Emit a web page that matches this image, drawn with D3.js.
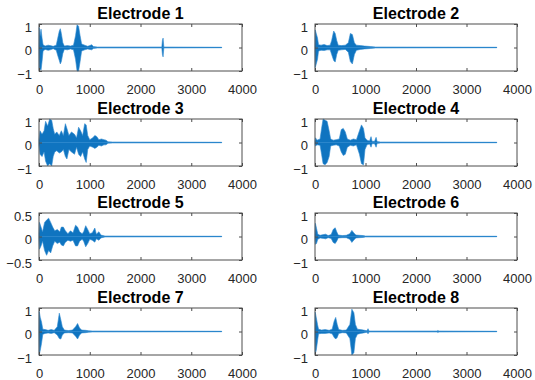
<!DOCTYPE html>
<html>
<head>
<meta charset="utf-8">
<script src="https://cdn.jsdelivr.net/npm/d3@7"></script>
<style>
  html, body { margin: 0; padding: 0; background: #ffffff; }
  svg { display: block; }
</style>
</head>
<body>
<svg id="chart" width="535" height="380"></svg>
<script>
// ---- data: [sample, upper envelope, lower envelope] ----
const titles = ["Electrode 1", "Electrode 2", "Electrode 3", "Electrode 4",
                "Electrode 5", "Electrode 6", "Electrode 7", "Electrode 8"];
const xTicks = [0, 1000, 2000, 3000, 4000];
const yTicksFull = [-1, 0, 1];
const yTicksHalf = [-0.5, 0, 0.5];
const signalEnd = 3600;

const e1 = [[0,0,0],[5,0.85,-0.95],[20,0.5,-0.9],[40,0.78,-0.97],[60,0.4,-0.6],[80,0.12,-0.15],[120,0.06,-0.08],[180,0.1,-0.12],[220,0.08,-0.1],[280,0.05,-0.05],[340,0.1,-0.12],[370,0.4,-0.35],[400,0.7,-0.55],[420,0.8,-0.7],[440,0.6,-0.6],[470,0.2,-0.25],[500,0.06,-0.08],[560,0.08,-0.1],[620,0.06,-0.06],[680,0.1,-0.1],[720,0.5,-0.5],[750,0.97,-1.0],[780,0.9,-1.0],[810,0.5,-0.6],[840,0.15,-0.15],[900,0.1,-0.1],[960,0.05,-0.06],[1000,0.08,-0.08],[1040,0.12,-0.1],[1070,0.04,-0.04],[1150,0.02,-0.02],[2420,0.02,-0.02],[2432,0.3,-0.3],[2445,0.4,-0.4],[2460,0.02,-0.02],[3600,0.01,-0.01]];
const e2 = [[0,0,0],[5,0.75,-0.85],[25,0.6,-0.7],[50,0.4,-0.5],[70,0.12,-0.15],[120,0.1,-0.12],[180,0.13,-0.13],[240,0.08,-0.1],[300,0.1,-0.1],[330,0.3,-0.3],[370,0.7,-0.55],[400,0.6,-0.62],[430,0.3,-0.3],[460,0.1,-0.12],[520,0.08,-0.1],[600,0.1,-0.08],[660,0.2,-0.2],[700,0.6,-0.6],[740,0.55,-0.7],[780,0.2,-0.3],[820,0.1,-0.12],[900,0.08,-0.08],[980,0.06,-0.06],[1050,0.05,-0.05],[1100,0.04,-0.04],[1200,0.02,-0.02],[3600,0.01,-0.01]];
const e3 = [[0,0.1,-0.1],[20,0.5,-0.5],[60,0.35,-0.6],[100,0.5,-0.4],[130,0.9,-0.8],[170,0.7,-1.0],[210,1.0,-0.9],[250,0.95,-1.0],[280,0.6,-0.6],[310,0.35,-0.4],[350,0.45,-0.35],[400,0.3,-0.45],[440,0.5,-0.4],[480,0.3,-0.3],[520,0.8,-0.6],[550,0.6,-0.7],[590,0.3,-0.3],[640,0.45,-0.4],[700,0.35,-0.5],[740,0.2,-0.2],[780,0.65,-0.5],[820,0.5,-0.6],[860,0.3,-0.4],[900,0.8,-0.7],[930,0.75,-0.85],[960,0.3,-0.3],[1000,0.12,-0.15],[1060,0.2,-0.2],[1100,0.3,-0.25],[1140,0.25,-0.2],[1180,0.12,-0.12],[1230,0.15,-0.15],[1280,0.12,-0.1],[1320,0.1,-0.1],[1360,0.03,-0.03],[1450,0.02,-0.02],[3600,0.01,-0.01]];
const e4 = [[0,0.05,-0.05],[10,0.2,-0.15],[40,0.1,-0.1],[100,0.15,-0.12],[130,0.6,-0.5],[160,1.0,-0.9],[200,0.95,-0.95],[240,0.9,-0.85],[280,0.5,-0.6],[310,0.15,-0.15],[360,0.1,-0.12],[420,0.12,-0.1],[480,0.15,-0.15],[520,0.55,-0.4],[560,0.6,-0.55],[600,0.45,-0.5],[640,0.15,-0.2],[700,0.1,-0.12],[760,0.15,-0.15],[820,0.12,-0.1],[880,0.5,-0.5],[920,0.75,-0.9],[960,0.6,-0.95],[990,0.2,-0.3],[1030,0.1,-0.1],[1080,0.06,-0.06],[1110,0.25,-0.2],[1130,0.05,-0.05],[1180,0.05,-0.05],[1210,0.22,-0.2],[1230,0.04,-0.04],[1300,0.02,-0.02],[3600,0.01,-0.01]];
const e5 = [[0,0.05,-0.05],[10,0.3,-0.27],[40,0.2,-0.2],[70,0.1,-0.1],[110,0.3,-0.3],[150,0.35,-0.4],[190,0.39,-0.3],[230,0.3,-0.35],[270,0.2,-0.2],[310,0.12,-0.1],[360,0.15,-0.15],[410,0.1,-0.12],[440,0.2,-0.18],[480,0.2,-0.2],[520,0.12,-0.12],[570,0.06,-0.08],[620,0.12,-0.1],[670,0.08,-0.08],[720,0.24,-0.2],[760,0.2,-0.2],[800,0.1,-0.1],[850,0.06,-0.06],[880,0.1,-0.1],[920,0.23,-0.22],[960,0.15,-0.15],[1000,0.06,-0.06],[1050,0.08,-0.08],[1100,0.18,-0.12],[1130,0.05,-0.05],[1180,0.1,-0.08],[1220,0.03,-0.03],[1300,0.01,-0.01],[3600,0.005,-0.005]];
const e6 = [[0,0.05,-0.05],[8,0.56,-0.33],[30,0.35,-0.3],[55,0.1,-0.12],[100,0.05,-0.06],[170,0.08,-0.08],[210,0.1,-0.1],[260,0.04,-0.05],[320,0.08,-0.08],[360,0.3,-0.25],[400,0.37,-0.3],[430,0.2,-0.2],[460,0.06,-0.06],[540,0.04,-0.05],[620,0.05,-0.05],[690,0.12,-0.12],[730,0.26,-0.25],[770,0.15,-0.15],[810,0.06,-0.06],[880,0.05,-0.05],[950,0.04,-0.04],[1000,0.02,-0.02],[3600,0.01,-0.01]];
const e7 = [[0,0.05,-0.05],[5,0.85,-0.98],[25,0.6,-0.8],[50,0.4,-0.5],[75,0.1,-0.12],[120,0.08,-0.08],[180,0.05,-0.06],[240,0.08,-0.08],[300,0.05,-0.05],[360,0.2,-0.15],[400,0.78,-0.3],[430,0.5,-0.32],[460,0.2,-0.15],[500,0.06,-0.06],[580,0.04,-0.05],[660,0.06,-0.06],[720,0.2,-0.2],[760,0.34,-0.32],[800,0.15,-0.15],[840,0.06,-0.06],[920,0.05,-0.05],[980,0.03,-0.03],[1050,0.02,-0.02],[3600,0.01,-0.01]];
const e8 = [[0,0.05,-0.05],[5,0.82,-0.95],[25,0.6,-0.8],[50,0.3,-0.4],[70,0.1,-0.1],[130,0.06,-0.08],[200,0.08,-0.08],[280,0.05,-0.06],[340,0.1,-0.1],[380,0.45,-0.25],[410,0.6,-0.32],[440,0.3,-0.25],[470,0.08,-0.08],[540,0.05,-0.05],[620,0.06,-0.06],[690,0.3,-0.3],[730,0.95,-1.0],[770,0.8,-0.9],[800,0.3,-0.3],[840,0.1,-0.12],[900,0.08,-0.08],[960,0.06,-0.06],[1030,0.03,-0.03],[1050,0.12,-0.1],[1070,0.02,-0.02],[2420,0.02,-0.02],[2435,0.05,-0.05],[2450,0.02,-0.02],[3600,0.01,-0.01]];

const signals = [e1, e2, e3, e4, e5, e6, e7, e8];
const yLimits = [1, 1, 1, 1, 0.5, 1, 1, 1];

// ---- layout ----
const svg = d3.select("#chart");
const colX = [39, 315];
const colW = [203, 202];
const rowY = [24, 119, 213, 308];
const panelH = 47;
const lineColor = "#0f74c0";
const axisColor = "#4d4d4d";
const fontFamily = "'Liberation Sans', Arial, Helvetica, sans-serif";

signals.forEach((sig, i) => {
  const col = i % 2, row = Math.floor(i / 2);
  const w = colW[col], h = panelH;
  const g = svg.append("g").attr("transform", `translate(${colX[col]},${rowY[row]})`);
  const lim = yLimits[i];
  const x = d3.scaleLinear().domain([0, 4000]).range([0, w]);
  const y = d3.scaleLinear().domain([-lim, lim]).range([h, 0]);
  const yT = lim === 1 ? yTicksFull : yTicksHalf;

  // signal envelope
  const area = d3.area()
    .x(d => x(d[0]))
    .y0(d => y(d[2]))
    .y1(d => y(d[1]));
  g.append("path").datum(sig)
    .attr("d", area)
    .attr("fill", lineColor)
    .attr("stroke", "#2f8ad0")
    .attr("stroke-width", 0.6);
  g.append("line")
    .attr("x1", x(0)).attr("x2", x(signalEnd))
    .attr("y1", y(0)).attr("y2", y(0))
    .attr("stroke", "#2a86cc").attr("stroke-width", 1);

  // axes (inward ticks on all sides)
  const styleAxis = sel => {
    sel.select(".domain").remove();
    sel.selectAll(".tick line").attr("stroke", axisColor);
    sel.selectAll("text").attr("fill", "#262626")
      .style("font-family", fontFamily).style("font-size", "13px");
  };
  g.append("g").attr("transform", `translate(0,${h})`)
    .call(d3.axisBottom(x).tickValues(xTicks).tickSize(-3).tickPadding(8).tickFormat(d3.format("d")))
    .call(styleAxis)
    .call(s => s.selectAll("text").attr("y", 14).attr("dy", "0.71em"));
  g.append("g")
    .call(d3.axisTop(x).tickValues(xTicks).tickSize(-3).tickFormat(""))
    .call(styleAxis);
  g.append("g")
    .call(d3.axisLeft(y).tickValues(yT).tickSize(-3).tickPadding(7).tickFormat(d => d3.format("")(d)))
    .call(styleAxis)
    .call(s => s.selectAll("text").attr("dy", "0.55em"));
  g.append("g").attr("transform", `translate(${w},0)`)
    .call(d3.axisRight(y).tickValues(yT).tickSize(-3).tickFormat(""))
    .call(styleAxis);

  // box
  g.append("rect")
    .attr("x", 0).attr("y", 0).attr("width", w).attr("height", h)
    .attr("fill", "none").attr("stroke", axisColor).attr("stroke-width", 1);

  // title
  g.append("text")
    .attr("x", w / 2).attr("y", -5)
    .attr("text-anchor", "middle")
    .style("font-family", fontFamily)
    .style("font-size", "16px")
    .style("font-weight", "bold")
    .attr("fill", "#000")
    .text(titles[i]);
});
</script>
</body>
</html>
